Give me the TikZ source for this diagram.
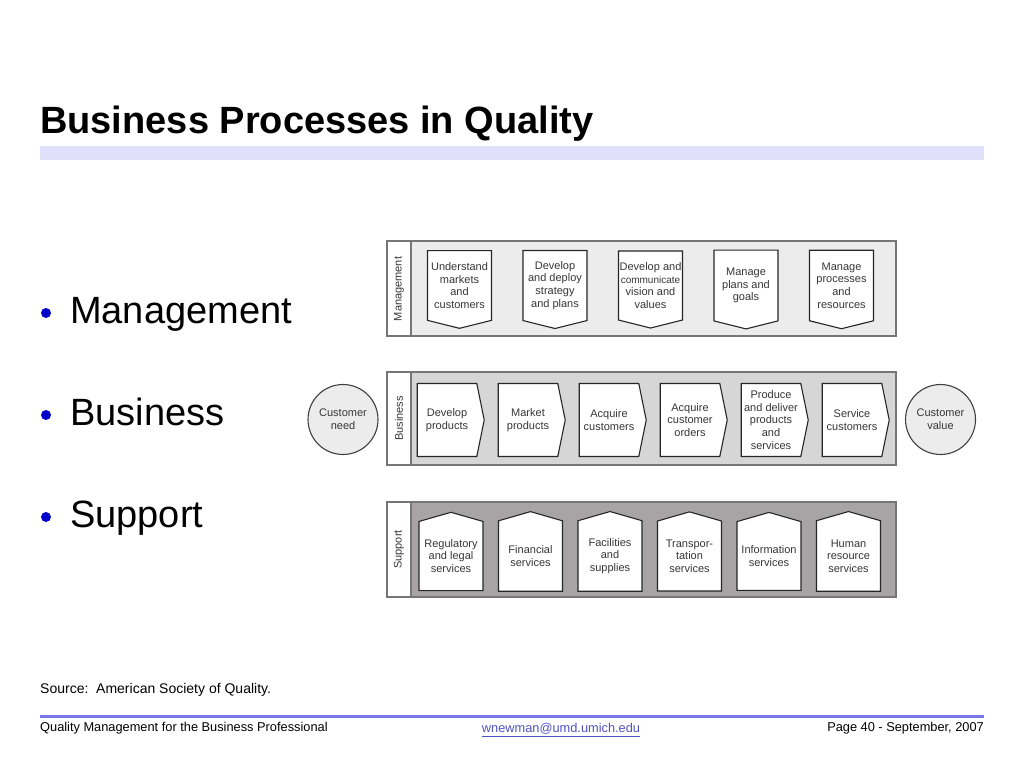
\documentclass[tikz,border=0pt]{standalone}
\usepackage{fontspec}
\setmainfont{Liberation Sans}
\usetikzlibrary{shapes.symbols}
\definecolor{titlebar}{RGB}{224,224,251}
\definecolor{footline}{RGB}{120,120,232}
\definecolor{bulletblue}{RGB}{0,0,200}
\definecolor{mgmtfill}{RGB}{236,236,236}
\definecolor{busfill}{RGB}{214,214,214}
\definecolor{supfill}{RGB}{168,164,166}
\definecolor{panelline}{RGB}{118,118,118}
\definecolor{boxtext}{RGB}{55,55,55}
\definecolor{mailblue}{RGB}{80,80,200}
\begin{document}
\begin{tikzpicture}[x=1pt,y=-1pt,
		panel/.style={draw=panelline,line width=1.3pt},
		lane/.style={rotate=90,inner sep=0pt,font=\fontsize{11}{13}\selectfont,text=boxtext},
		mbox/.style={shape=signal,signal to=south,signal pointer angle=152,draw=black!85,line width=1.1pt,fill=white,
			minimum width=64,minimum height=77,inner sep=1pt,align=center,font=\fontsize{11}{12.7}\selectfont,text=boxtext},
		bbox/.style={mbox,signal to=east,signal pointer angle=157,minimum width=67,minimum height=73},
		sbox/.style={mbox,signal to=north,signal pointer angle=148,minimum height=77},
		ends/.style={circle,draw=black!75,line width=1.1pt,fill=mgmtfill,minimum size=70,inner sep=0pt,
			align=center,font=\fontsize{11}{13}\selectfont,text=boxtext},
		item/.style={anchor=base west,inner sep=0pt,font=\fontsize{38}{40}\selectfont},
		foot/.style={inner sep=0pt,font=\fontsize{12.8}{14}\selectfont},]
	\useasboundingbox (0,0) rectangle (1024,768);
	\node[anchor=base west,inner sep=0pt,font=\bfseries\fontsize{38}{40}\selectfont] (title) at (40,133) {Business Processes in Quality};
	\fill[titlebar] (40,146) rectangle (984,160);
	\path
	(70,323) node[item] (li1) {Management}
	++(0,102) node[item] (li2) {Business}
	++(0,102) node[item] (li3) {Support};
	\fill[bulletblue] (46,313) circle (5) (46,415) circle (5) (46,517) circle (5);
	% panels
	\draw[panel,fill=mgmtfill] (387,241) rectangle (896,336);
	\draw[panel,fill=white] (387,241) rectangle (411,336);
	\draw[panel,fill=busfill] (387,372) rectangle (896,465);
	\draw[panel,fill=white] (387,372) rectangle (411,465);
	\draw[panel,fill=supfill] (387,502) rectangle (896,597);
	\draw[panel,fill=white] (387,502) rectangle (411,597);
	\node[lane] (lm) at (399,289) {Management};
	\node[lane] (lb) at (399,418.5) {Business};
	\node[lane] (ls) at (399,549.5) {Support};
	\path
	(459.5,285.5) node[mbox] (m1) {Understand\\markets\\and\\customers}     % <<< management
	++(95.5,0) node[mbox] (m2) {Develop\\and deploy\\strategy\\and plans}
	++(95.5,0) node[mbox] (m3) {Develop and\\{\fontsize{10}{12.7}\selectfont communicate}\\vision and\\values}
	++(95.5,0) node[mbox] (m4) {Manage\\plans and\\goals}
	++(95.5,0) node[mbox] (m5) {Manage\\processes\\and\\resources};
	\path
	(343,419.5) node[ends] (need) {Customer\\need}
	(447,420) node[bbox] (p1) {Develop\\products}                          % <<< business
	++(81,0) node[bbox] (p2) {Market\\products}
	++(81,0) node[bbox] (p3) {Acquire\\customers}
	++(81,0) node[bbox] (p4) {Acquire\\customer\\orders}
	++(81,0) node[bbox] (p5) {Produce\\and deliver\\products\\and\\services}
	++(81,0) node[bbox] (p6) {Service\\customers}
	(940.5,419.5) node[ends] (value) {Customer\\value};
	\path
	(451,556) node[sbox] (s1) {Regulatory\\and legal\\services}           % <<< support
	++(79.5,0) node[sbox] (s2) {Financial\\services}
	++(79.5,0) node[sbox] (s3) {Facilities\\and\\supplies}
	++(79.5,0) node[sbox] (s4) {Transpor-\\tation\\services}
	++(79.5,0) node[sbox] (s5) {Information\\services}
	++(79.5,0) node[sbox] (s6) {Human\\resource\\services};
	% footer
	\node[foot,anchor=west,font=\fontsize{14}{16}\selectfont] (src) at (40,690) {Source:\ \ American Society of Quality.};
	\draw[footline,line width=3pt] (40,716) -- (984,716);
	\node[foot,anchor=west] (fl) at (40,728) {Quality Management for the Business Professional};
	\node[foot,text=mailblue] (fm) at (561,730) {\underline{wnewman@umd.umich.edu}};
	\node[foot,anchor=east] (fr) at (984,728) {Page 40 - September, 2007};
\end{tikzpicture}
\end{document}
